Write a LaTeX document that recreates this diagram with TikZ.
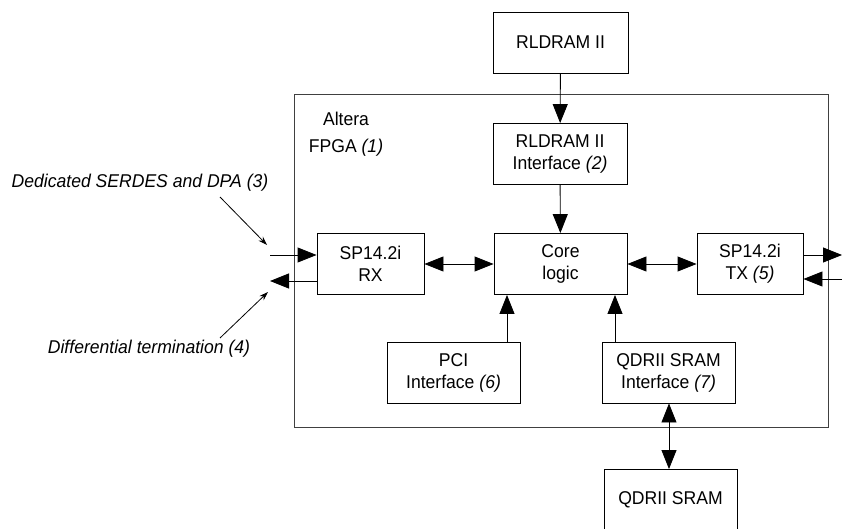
\documentclass[tikz,border=0pt]{standalone}
\usepackage{fontspec}
\setmainfont[FakeStretch=0.95]{Liberation Sans}
\usetikzlibrary{arrows.meta}
\tikzset{
  blk/.style={draw, line width=0.9pt, minimum width=#1, minimum height=61pt, inner sep=0pt, align=center,
    font=\fontsize{18.5}{22}\selectfont},
  blk/.default=134pt,
  lbl/.style={font=\fontsize{18.5}{22}\selectfont, inner sep=0pt},
  sig/.style={line width=0.9pt, -{Triangle[length=19pt,width=15pt]}},
  bisig/.style={line width=0.9pt, {Triangle[length=19pt,width=15pt]}-{Triangle[length=19pt,width=15pt]}},
  note/.style={line width=0.8pt, -{Stealth[length=9pt,width=6pt]}}
}
\begin{document}
\begin{tikzpicture}[x=1pt,y=-1pt]
                \useasboundingbox (0,0) rectangle (842,529);
                \draw[black!75, line width=0.9pt] (294,94) rectangle (828,427);
                \draw (346,119) node[lbl] (altera) {Altera};
                \draw (346,148) node[lbl] (fpga) {FPGA \textit{(1)}};
                \draw (560.5,42.5) node[blk=135pt] (rldram) {RLDRAM II};
                \draw (560,154) node[blk] (rlif) {RLDRAM II\\Interface \textit{(2)}};
                \draw (560.5,264) node[blk=133pt] (core) {Core\\logic};
                \draw (370.5,264) node[blk=107pt] (rx) {SP14.2i\\RX};
                \draw (750,264) node[blk=106pt] (tx) {SP14.2i\\TX \textit{(5)}};
                \draw (453.5,373) node[blk=133pt] (pci) {PCI\\Interface \textit{(6)}};
                \draw (668.5,372.5) node[blk=133pt] (qif) {QDRII SRAM\\Interface \textit{(7)}};
                \draw (670.5,500) node[blk=133pt] (qsram) {QDRII SRAM};
                \draw (140,183) node[lbl] (serdes) {\textit{Dedicated SERDES and DPA (3)}};
                \draw (149,349) node[lbl] (term) {\textit{Differential termination (4)}};
                \coordinate (rxin) at (270,255);
                \coordinate (rxout) at (270,281);
                \coordinate (txout) at (842,255);
                \coordinate (txin) at (842,279);
                \coordinate (serdesA) at (220,197);
                \coordinate (serdesB) at (267,245);
                \coordinate (termA) at (220,338);
                \coordinate (termB) at (268,292);
                \draw[sig] (rldram) -- (rlif);
                \draw[sig] (rlif) -- (core);
                \draw[bisig] (rx) -- (core);
                \draw[bisig] (core) -- (tx);
                \draw[sig] (pci.north -| 507,0) -- (core.south -| 507,0);
                \draw[sig] (qif.north -| 615,0) -- (core.south -| 615,0);
                \draw[bisig] (qif.south -| 669,0) -- (qsram.north -| 669,0);
                \draw[sig] (rxin) -- (rx.west |- rxin);
                \draw[sig] (rx.west |- rxout) -- (rxout);
                \draw[sig] (tx.east |- txout) -- (txout);
                \draw[sig] (txin) -- (tx.east |- txin);
                \draw[note] (serdesA) -- (serdesB);
                \draw[note] (termA) -- (termB);
\end{tikzpicture}
\end{document}
